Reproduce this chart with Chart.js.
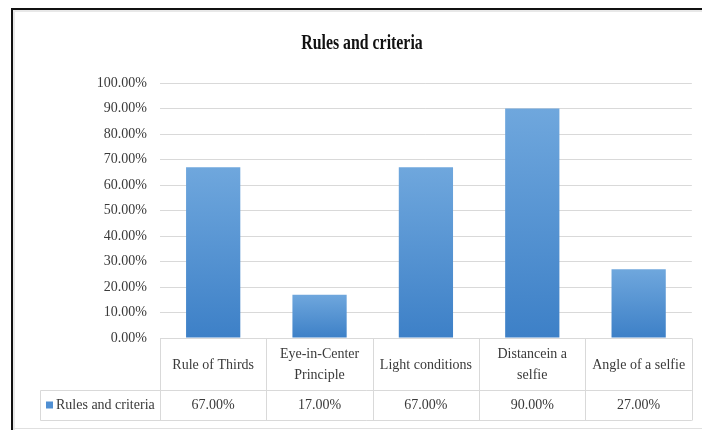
<!DOCTYPE html>
<html>
<head>
<meta charset="utf-8">
<script src="https://cdn.jsdelivr.net/npm/chart.js@4.4.1/dist/chart.umd.min.js"></script>
<style>
  html, body { margin: 0; padding: 0; background: #fff; }
  #chart { display: block; }
</style>
</head>
<body>
<canvas id="chart" width="702" height="430"></canvas>
<script>
// Data
const categories = [
    ['Rule of Thirds'],
    ['Eye-in-Center', 'Principle'],
    ['Light conditions'],
    ['Distancein a', 'selfie'],
    ['Angle of a selfie']
];
const seriesName = 'Rules and criteria';
const seriesValues = [67, 17, 67, 90, 27];
const chartTitle = 'Rules and criteria';

const FONT = '"Liberation Serif", "Times New Roman", serif';
const TEXT = '#3a3a3a';
const LINE = '#d9d9d9';

// per bar gradient, lighter at the top
function barFill(ctx) {
    const chart = ctx.chart;
    if (!chart.chartArea) return '#5b9bd5';
    const yScale = chart.scales.y;
    const top = yScale.getPixelForValue(ctx.raw);
    const bottom = yScale.getPixelForValue(0);
    const g = chart.ctx.createLinearGradient(0, top, 0, bottom);
    g.addColorStop(0, '#6fa7dd');
    g.addColorStop(1, '#3d80c7');
    return g;
}

// frame, title and the data table under the axis
const tablePlugin = {
    id: 'tablePlugin',
    beforeDraw(chart) {
        const ctx = chart.ctx;
        ctx.save();
        ctx.fillStyle = '#fff';
        ctx.fillRect(0, 0, chart.width, chart.height);
        // outer frame
        ctx.fillStyle = '#e8e8e8';
        ctx.fillRect(13, 10, chart.width, 2);
        ctx.fillRect(13, 10, 2, chart.height);
        ctx.fillStyle = '#111';
        ctx.fillRect(11, 8, chart.width, 2);
        ctx.fillRect(11, 8, 2, chart.height);
        ctx.fillStyle = '#e0e0e0';
        ctx.fillRect(13, 428, chart.width, 1);
        ctx.restore();
    },
    afterDraw(chart) {
        const ctx = chart.ctx;
        const x = chart.scales.x;
        const n = categories.length;
        const colW = (x.right - x.left) / n;
        const top = Math.round(x.top) + 0.5;
        const mid = Math.round(x.bottom) + 0.5;
        const bot = mid + 30;
        const tableLeft = 40.5;

        ctx.save();
        ctx.strokeStyle = LINE;
        ctx.lineWidth = 1;
        ctx.beginPath();
        ctx.moveTo(x.left, top); ctx.lineTo(x.right, top);
        ctx.moveTo(tableLeft, mid); ctx.lineTo(x.right, mid);
        ctx.moveTo(tableLeft, bot); ctx.lineTo(x.right, bot);
        for (let i = 0; i <= n; i++) {
            const xi = Math.round(x.left + i * colW) + 0.5;
            ctx.moveTo(xi, top); ctx.lineTo(xi, bot);
        }
        ctx.moveTo(tableLeft, mid); ctx.lineTo(tableLeft, bot);
        ctx.stroke();

        // values row
        ctx.fillStyle = TEXT;
        ctx.font = '14px ' + FONT;
        ctx.textBaseline = 'middle';
        ctx.textAlign = 'center';
        const rowY = (mid + bot) / 2;
        seriesValues.forEach((v, i) => {
            ctx.fillText(v.toFixed(2) + '%', x.getPixelForValue(i), rowY);
        });

        // legend key
        ctx.fillStyle = '#4f8fd3';
        ctx.fillRect(46, rowY - 4, 7, 7);
        ctx.fillStyle = TEXT;
        ctx.textAlign = 'left';
        ctx.fillText(seriesName, 56, rowY);

        // title, condensed like the source
        ctx.translate(362, 43);
        ctx.scale(0.72, 1);
        ctx.font = 'bold 22px ' + FONT;
        ctx.textAlign = 'center';
        ctx.fillStyle = '#111';
        ctx.fillText(chartTitle, 0, 0);
        ctx.restore();
    }
};

const chart = new Chart(document.getElementById('chart'), {
    type: 'bar',
    data: {
        labels: categories,
        datasets: [{
            label: seriesName,
            data: seriesValues,
            backgroundColor: barFill,
            borderWidth: 0,
            categoryPercentage: 1,
            barPercentage: 0.51
        }]
    },
    options: {
        responsive: false,
        animation: false,
        devicePixelRatio: 1,
        layout: {
            padding: { top: 83, left: 20, right: 9, bottom: 40 }
        },
        plugins: {
            legend: { display: false },
            title: { display: false },
            tooltip: { enabled: false }
        },
        scales: {
            x: {
                grid: { display: false, drawTicks: false },
                border: { display: false },
                ticks: {
                    color: TEXT,
                    font: { family: FONT, size: 14, lineHeight: 1.55 },
                    maxRotation: 0,
                    autoSkip: false,
                    crossAlign: 'center',
                    padding: 16
                },
                afterFit(scale) { scale.height = 52; }
            },
            y: {
                min: 0,
                max: 100,
                grid: { color: LINE, drawTicks: false },
                border: { display: false },
                ticks: {
                    stepSize: 10,
                    color: TEXT,
                    padding: 13,
                    font: { family: FONT, size: 14 },
                    callback: v => v.toFixed(2) + '%'
                },
                afterFit(scale) { scale.width = 140; }
            }
        }
    },
    plugins: [tablePlugin]
});
</script>
</body>
</html>
